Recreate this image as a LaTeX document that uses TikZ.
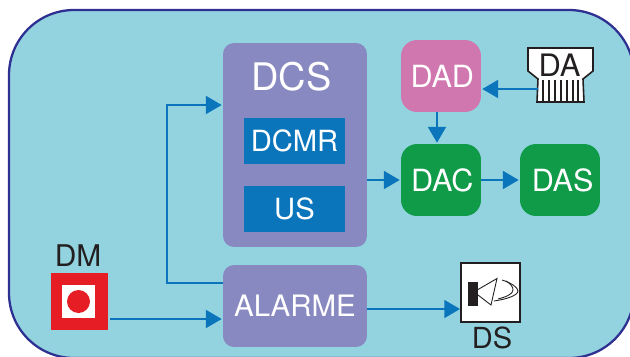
\documentclass[tikz,border=0pt]{standalone}
\usepackage{fontspec}
\setmainfont{TeX Gyre Heros}
\usepackage{tikz}
\usetikzlibrary{arrows.meta,positioning}
\definecolor{panelfill}{HTML}{93D3DF}
\definecolor{paneledge}{HTML}{2E3192}
\definecolor{lilac}{HTML}{8889C0}
\definecolor{rose}{HTML}{CF77AE}
\definecolor{leaf}{HTML}{109B48}
\definecolor{wire}{HTML}{0B75BC}
\definecolor{alarmred}{HTML}{E71D25}
\definecolor{ink}{HTML}{231F20}
\tikzset{
  lilacbox/.style={fill=lilac,rounded corners=0.22cm,minimum width=2.88cm,inner sep=0pt,text=white,font=\fontsize{16.8}{18}\selectfont},
  smallbox/.style={rounded corners=0.32cm,minimum width=1.6cm,minimum height=1.44cm,inner sep=0pt,text=white,font=\fontsize{17.4}{18}\selectfont},
  bluebox/.style={fill=wire,minimum width=2.02cm,minimum height=0.92cm,inner sep=0pt,text=white,font=\fontsize{16.6}{18}\selectfont},
  blackwords/.style={text=ink,inner sep=0pt},
  wireline/.style={wire,line width=1.6pt,-{Triangle[length=9pt,width=10pt]},shorten >=0.5pt}
}
\begin{document}
\begin{tikzpicture}[x=0.02cm,y=-0.02cm]
        \useasboundingbox (0,0) rectangle (630,356);
        \begin{scope}
        \clip (0,0) rectangle (630,356);
        \draw[paneledge,fill=panelfill,line width=1.3pt,rounded corners=1.3cm] (9,10) rectangle (634,358);
        \end{scope}
        % purple blocks
        \node[lilacbox,minimum height=4.08cm] (dcs) at (295,145) {};
        \node[lilacbox,minimum height=1.64cm] (alarme) at (295,306) {ALARME};
        \node[text=white,inner sep=0pt,font=\fontsize{21.6}{24}\selectfont] (dcstitle) at (291.5,77) {DCS};
        \node[bluebox] (dcmr) at (294.5,141) {DCMR};
        \node[bluebox] (us) at (294.5,209) {US};
        % small blocks
        \node[smallbox,fill=rose] (dad) at (441,76) {\hspace{1.5pt}DAD};
        \node[smallbox,fill=leaf] (dac) at (441,180) {\hspace{1.5pt}DAC};
        \node[smallbox,fill=leaf] (das) at (560,180) {\hspace{3pt}DAS};
        % push button
        \node[fill=alarmred,minimum size=1.15cm,inner sep=0pt] (dm) at (79.5,301.5) {};
        \node[fill=white,minimum size=0.66cm,inner sep=0pt] (dmface) at (78.5,301.5) {};
        \node[fill=alarmred,circle,minimum size=0.46cm,inner sep=0pt] (dmdot) at (78.5,301.5) {};
        \node[blackwords,font=\fontsize{17}{18}\selectfont] (dmlabel) at (78,256) {DM};
        % sounder
        \node[draw=ink,fill=white,line width=0.6pt,minimum size=1.18cm,inner sep=0pt] (ds) at (490.5,292.5) {};
        \node[blackwords,font=\fontsize{16.5}{18}\selectfont] (dslabel) at (492,338) {DS};
        \fill[ink] (467.5,282) rectangle (478,306);
        \draw[ink,line width=0.5pt] (478,289.5)--(497,278.5)--(491,305)--(478,295);
        \draw[ink,line width=0.5pt] (502,280) .. controls (512,283) and (518,288) .. (518,291) .. controls (518,295) and (508,299) .. (494,301);
        \draw[ink,line width=0.5pt] (506,281) .. controls (511,284) and (513,287) .. (513,290) .. controls (513,294) and (506,297) .. (498,299);
        % card
        \draw[ink,fill=white,line width=0.9pt] (528,48)--(593,48)--(593,71)--(583,79)--(584,102)--(537,102)--(538,79)--(528,71)--cycle;
        \foreach \x in {543,549,555,561,567,573,578}
            \draw[ink,line width=0.7pt] (\x,80)--(\x,102);
        \node[blackwords,font=\fontsize{17.6}{18}\selectfont] (da) at (559.5,65) {DA};
        % connectors
        \coordinate (dapin) at (538,89);
        \coordinate (dmout) at (110,319);
        \coordinate (dsin) at (461,309);
        \coordinate (alarmeup) at (alarme.west |- 0,283);
        \coordinate (bend) at (167,283);
        \coordinate (dcsin) at (dcs.west |- 0,105);
        \draw[wireline] (dapin)--(dad.east |- dapin);
        \draw[wireline] (dad.south -| 437,0)--(dac.north -| 437,0);
        \draw[wireline] (dcs.east |- dac)--(dac.west);
        \draw[wireline] (dac)--(das);
        \draw[wireline] (dmout)--(alarme.west |- dmout);
        \draw[wireline] (alarme.east |- dsin)--(dsin);
        \draw[wireline] (alarmeup)--(bend)--(bend |- dcsin)--(dcsin);
\end{tikzpicture}
\end{document}
